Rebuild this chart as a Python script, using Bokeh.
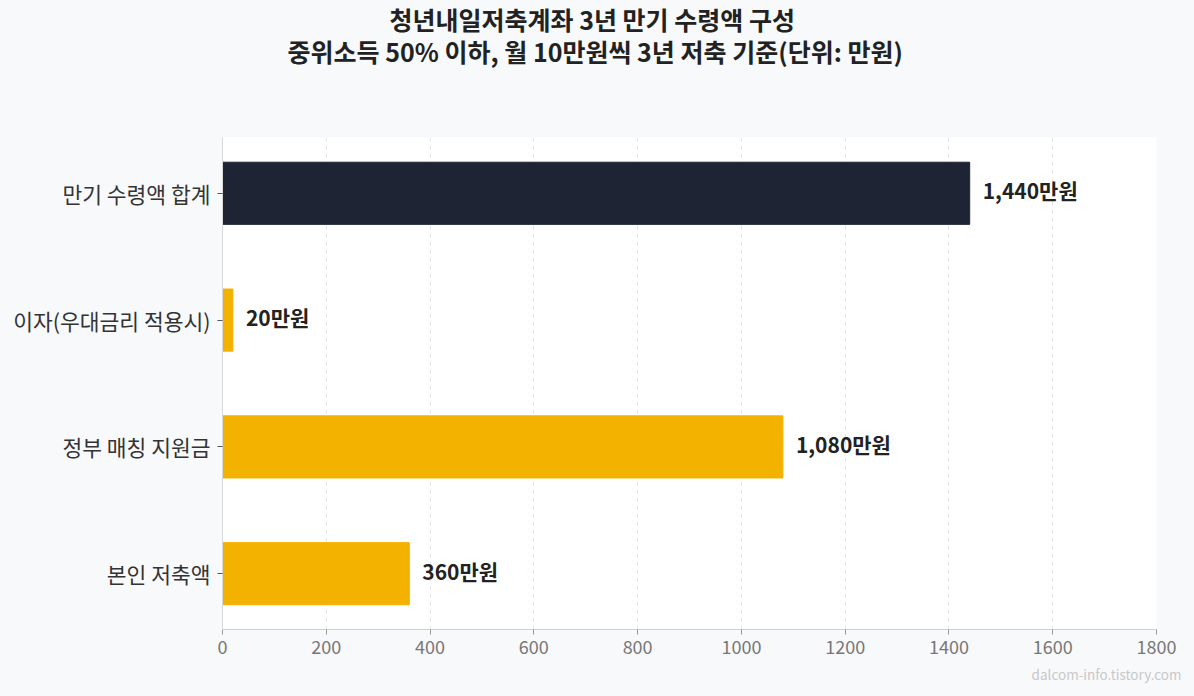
from bokeh.plotting import figure
from bokeh.models import Title, FixedTicker, Range1d, ColumnDataSource
from bokeh.core.properties import value
from bokeh.embed import file_html
from bokeh.resources import INLINE

categories = ["만기 수령액 합계", "이자(우대금리 적용시)", "정부 매칭 지원금", "본인 저축액"]
amounts = [1440, 20, 1080, 360]
bar_labels = ["1,440만원", "20만원", "1,080만원", "360만원"]
colors = ["#1e2433", "#f3b200", "#f3b200", "#f3b200"]
x_ticks = [0, 200, 400, 600, 800, 1000, 1200, 1400, 1600, 1800]
title1 = "청년내일저축계좌 3년 만기 수령액 구성"
title2 = "중위소득 50% 이하, 월 10만원씩 3년 저축 기준(단위: 만원)"
watermark = "dalcom-info.tistory.com"

FONT = "Noto Sans CJK KR"
BG = "#f8f9fb"

n = len(categories)
ypos = [n - 1 - i for i in range(n)]

src = ColumnDataSource(dict(y=ypos, v=amounts, lab=bar_labels, c=colors))

p = figure(width=1194, height=696, output_backend="svg", toolbar_location=None,
           title_location=None,
           x_range=Range1d(0, 1800), y_range=Range1d(-0.44, n - 1 + 0.44),
           min_border_left=222, min_border_right=38, min_border_top=0, min_border_bottom=67)
p.background_fill_color = "white"
p.border_fill_color = BG
p.outline_line_color = None

p.hbar(y="y", left=0, right="v", height=0.49, fill_color="c", line_color="c", source=src)
p.text(x="v", y="y", text="lab", source=src, x_offset=13, y_offset=-3, text_baseline="middle",
       text_align="left", text_font=value(FONT), text_font_style="bold",
       text_font_size="21px", text_color="#222222")

p.xaxis.ticker = FixedTicker(ticks=x_ticks)
p.xaxis.axis_line_color = "#d0d0d0"
p.xaxis.major_tick_line_color = "#999999"
p.xaxis.major_tick_in = 0
p.xaxis.major_tick_out = 5
p.xaxis.minor_tick_line_color = None
p.xaxis.major_label_text_font = FONT
p.xaxis.major_label_text_font_size = "18px"
p.xaxis.major_label_text_color = "#777777"
p.xaxis.major_label_standoff = 5

p.yaxis.ticker = FixedTicker(ticks=ypos)
p.yaxis.major_label_overrides = {ypos[i]: categories[i] for i in range(n)}
p.yaxis.axis_line_color = "#d8d8d8"
p.yaxis.major_tick_line_color = "#555555"
p.yaxis.major_tick_in = 0
p.yaxis.major_tick_out = 5
p.yaxis.minor_tick_line_color = None
p.yaxis.major_label_text_font = FONT
p.yaxis.major_label_text_font_size = "21.5px"
p.yaxis.major_label_text_color = "#333333"
p.yaxis.major_label_standoff = 7

p.xgrid.grid_line_color = "#e6e6e6"
p.xgrid.grid_line_dash = "4 4"
p.ygrid.grid_line_color = None

title_style = dict(text_font=FONT, text_font_style="bold", text_font_size="25px",
                   text_color="#222222")
# stacked from the frame outward: spacer, second line, first line
p.add_layout(Title(text=" ", align="left", offset=0, standoff=35, **title_style), "above")
p.add_layout(Title(text=title2, align="left", offset=65, standoff=-8, **title_style), "above")
p.add_layout(Title(text=title1, align="left", offset=167, standoff=-4, **title_style), "above")
p.add_layout(Title(text=watermark, align="right", offset=-25, standoff=11,
                   text_font=FONT, text_font_style="normal", text_font_size="13.5px",
                   text_color="#c8c8c8"), "below")

html = file_html(p, INLINE)
html = html.replace("<head>", "<head><style>body{background:%s;}</style>" % BG, 1)
open("out.html", "w").write(html)
